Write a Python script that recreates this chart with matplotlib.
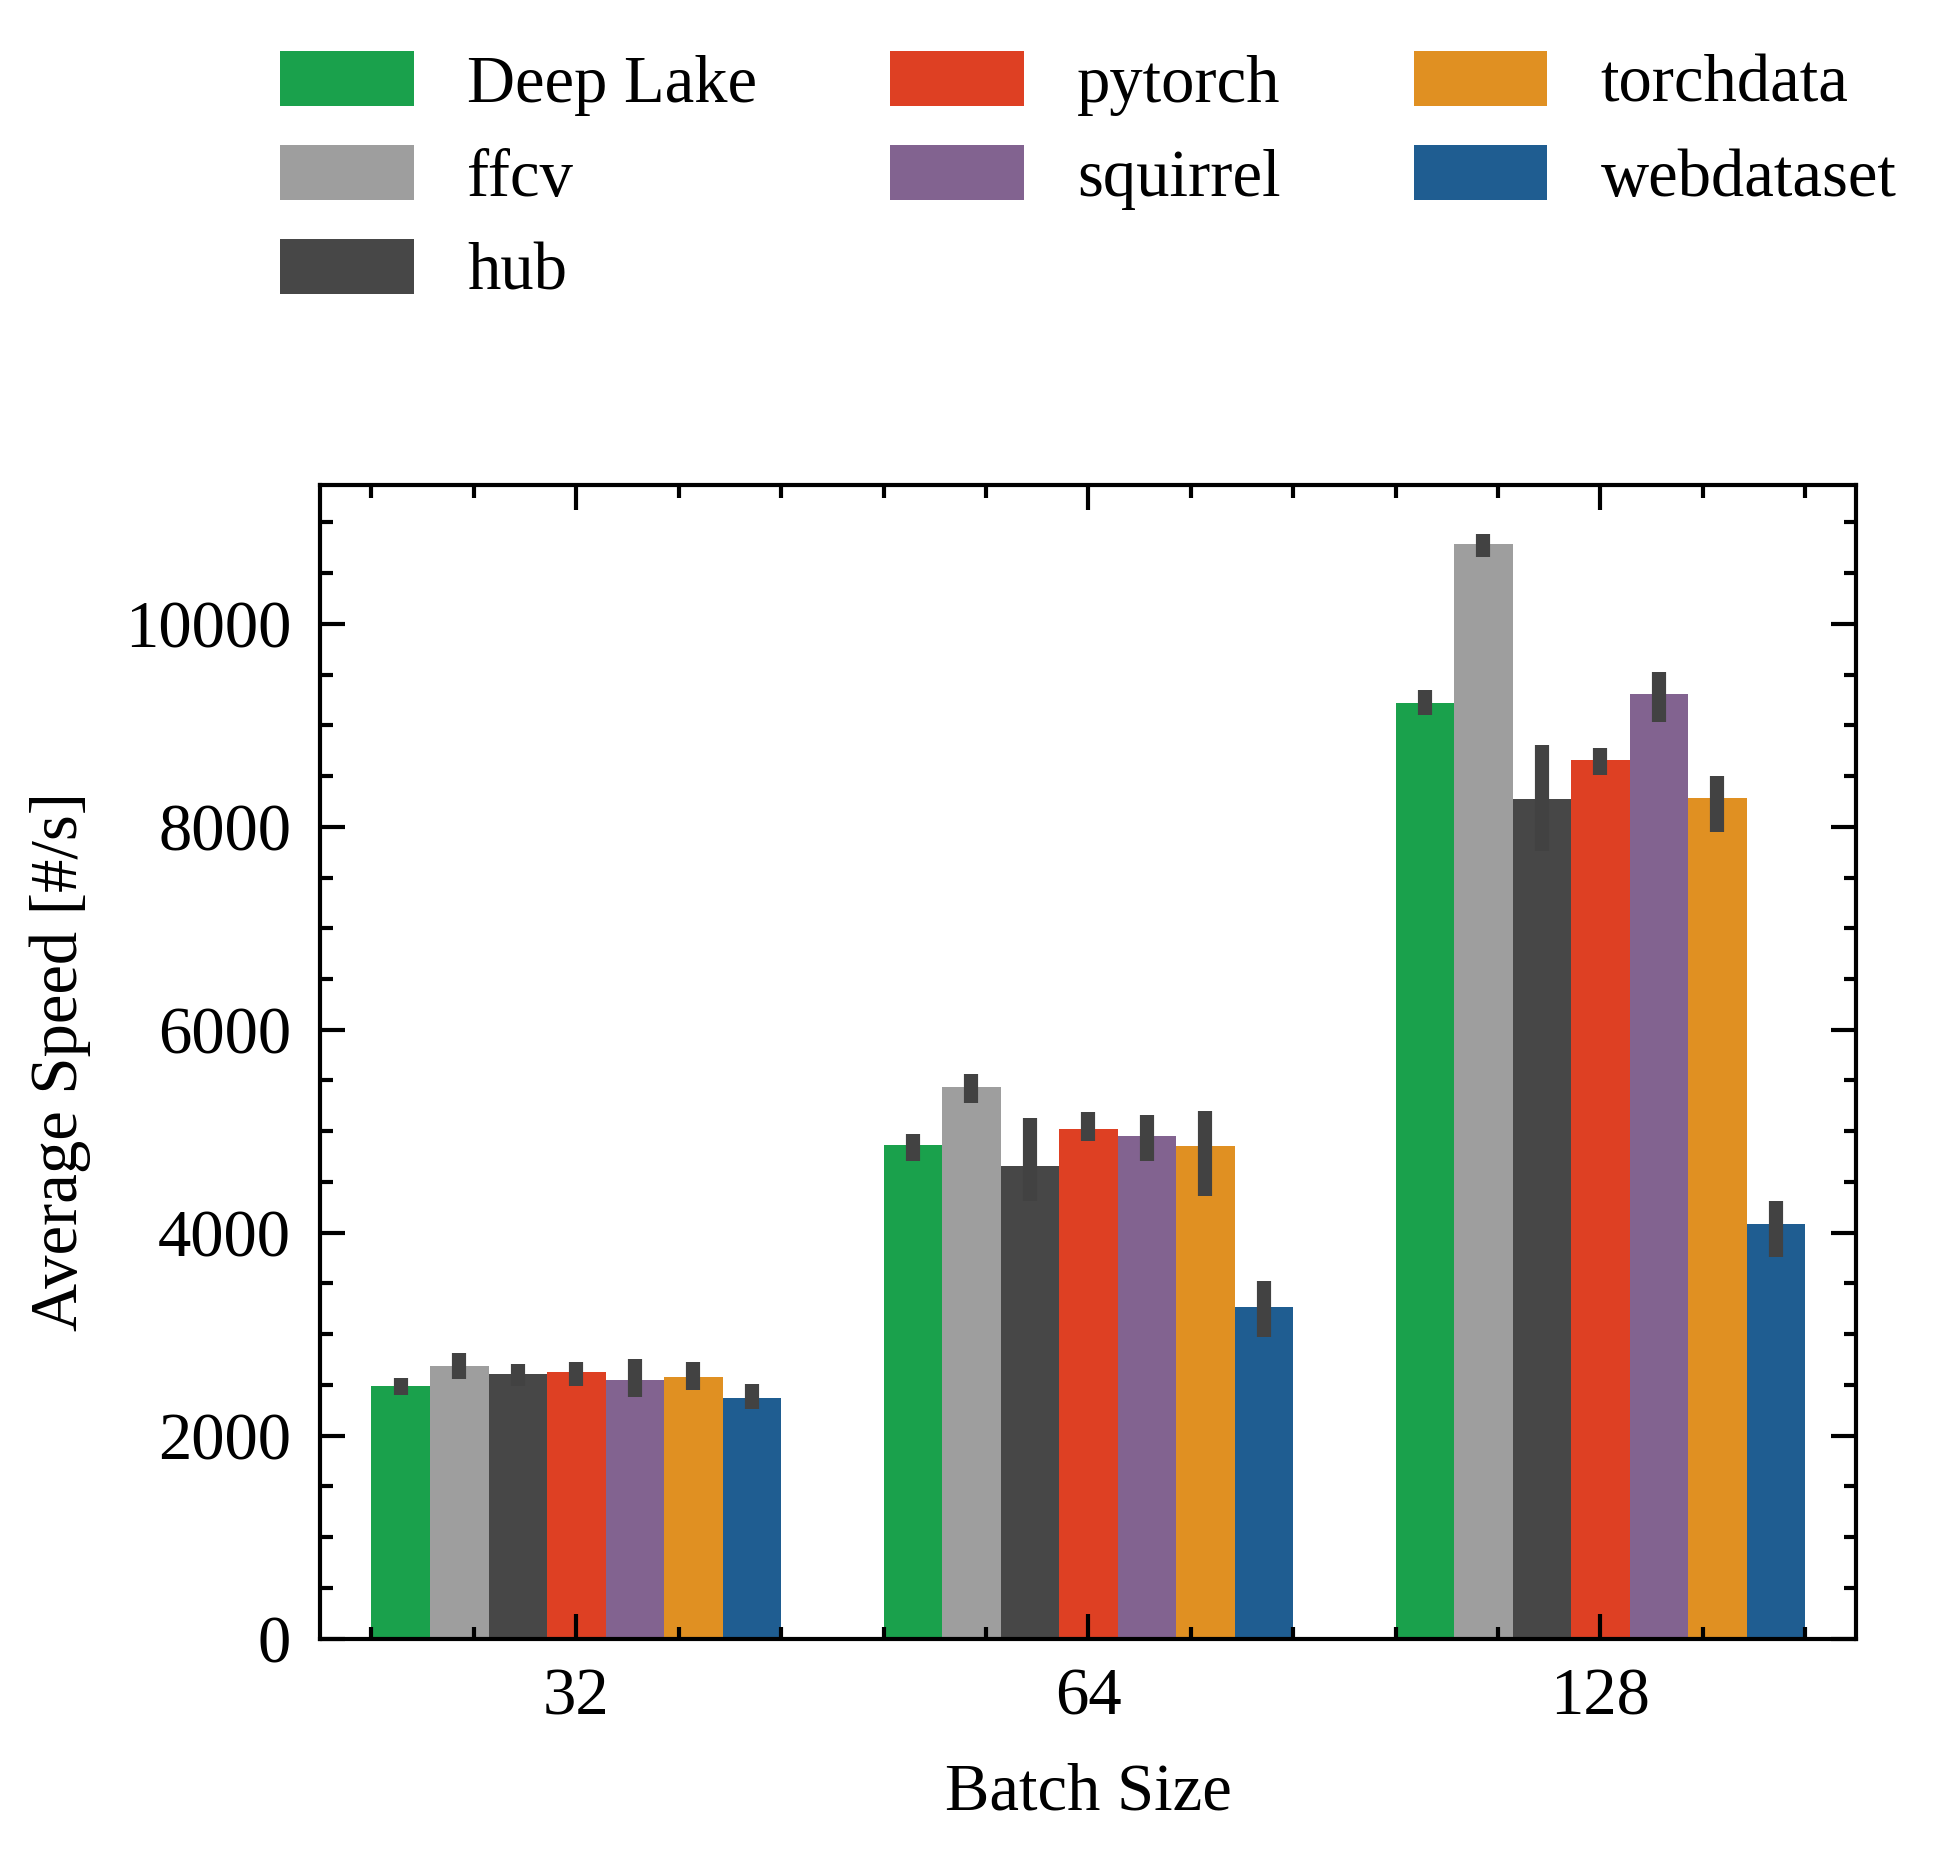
import matplotlib
matplotlib.use("Agg")
import matplotlib.pyplot as plt
from matplotlib.ticker import AutoMinorLocator, MultipleLocator
import numpy as np

# data
batch_sizes = ["32", "64", "128"]
loaders = ["Deep Lake", "ffcv", "hub", "pytorch", "squirrel", "torchdata", "webdataset"]
colors = ["#1aa14c", "#9e9e9e", "#474747", "#de4023", "#826390", "#e09022", "#1f5d91"]

speed = {
    "Deep Lake":  [2490, 4865, 9220],
    "ffcv":       [2690, 5440, 10790],
    "hub":        [2610, 4655, 8270],
    "pytorch":    [2630, 5025, 8655],
    "squirrel":   [2550, 4950, 9305],
    "torchdata":  [2580, 4855, 8280],
    "webdataset": [2375, 3270, 4090],
}
ci_low = {
    "Deep Lake":  [2400, 4705, 9100],
    "ffcv":       [2560, 5280, 10660],
    "hub":        [2485, 4315, 7765],
    "pytorch":    [2490, 4900, 8510],
    "squirrel":   [2385, 4705, 9030],
    "torchdata":  [2445, 4365, 7945],
    "webdataset": [2265, 2975, 3760],
}
ci_high = {
    "Deep Lake":  [2570, 4975, 9345],
    "ffcv":       [2815, 5565, 10885],
    "hub":        [2710, 5135, 8805],
    "pytorch":    [2725, 5185, 8780],
    "squirrel":   [2760, 5160, 9525],
    "torchdata":  [2725, 5195, 8505],
    "webdataset": [2510, 3520, 4315],
}

plt.rcParams.update({
    "font.family": ["Liberation Serif", "DejaVu Serif"],
    "font.size": 8,
    "axes.linewidth": 0.5,
    "xtick.direction": "in",
    "ytick.direction": "in",
    "xtick.top": True,
    "ytick.right": True,
    "xtick.major.size": 3,
    "ytick.major.size": 3,
    "xtick.minor.size": 1.5,
    "ytick.minor.size": 1.5,
    "xtick.major.width": 0.5,
    "ytick.major.width": 0.5,
    "xtick.minor.width": 0.5,
    "ytick.minor.width": 0.5,
    "xtick.minor.visible": True,
    "ytick.minor.visible": True,
})

fig = plt.figure(figsize=(3.255, 3.09), dpi=600)
ax = fig.add_axes([0.164, 0.1162, 0.7865, 0.6223])

n = len(loaders)
width = 0.8 / n
x = np.arange(len(batch_sizes))
for i, name in enumerate(loaders):
    pos = x - 0.4 + width * (i + 0.5)
    ax.bar(pos, speed[name], width=width, color=colors[i], label=name, linewidth=0)
for i, name in enumerate(loaders):
    pos = x - 0.4 + width * (i + 0.5)
    ax.vlines(pos, ci_low[name], ci_high[name], color="#424242", linewidth=1.7, zorder=3)

ax.set_xlim(-0.5, 2.5)
ax.set_xticks(x)
ax.set_xticklabels(batch_sizes)
ax.xaxis.set_minor_locator(MultipleLocator(0.2))
ax.yaxis.set_major_locator(MultipleLocator(2000))
ax.yaxis.set_minor_locator(AutoMinorLocator(4))
ax.set_ylim(0, 11370)
ax.set_xlabel("Batch Size")
ax.set_ylabel("Average Speed [#/s]")

ax.legend(loc="lower center", bbox_to_anchor=(0.5, 1.105), ncol=3, frameon=False,
          handlelength=2.0, handleheight=0.9, handletextpad=0.8, columnspacing=2.0,
          labelspacing=0.44)

fig.savefig("out.png", dpi=600)
